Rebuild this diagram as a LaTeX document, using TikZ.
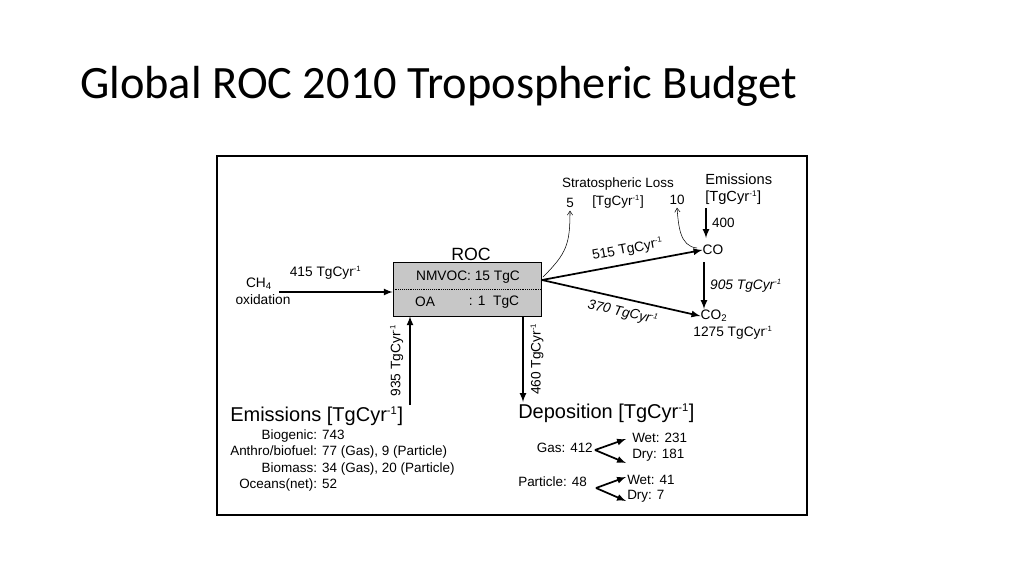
\documentclass[tikz,border=0pt]{standalone}
\usepackage{fontspec}
\usepackage{graphicx}
\setmainfont{Liberation Sans}
\newfontfamily\titlefont{Carlito}
\usetikzlibrary{arrows.meta}
\newcommand{\tgcyr}{TgCyr\textsuperscript{\scalebox{0.8}{-1}}}

\begin{document}
\begin{tikzpicture}[x=0.75pt,y=-0.75pt,
    flux/.style={>=latex,line width=1.3pt},
    loss/.style={>={Straight Barb[length=3pt,width=4pt]},thin},
    txt/.style={inner sep=0pt,font=\fontsize{10.3}{12}\selectfont},
    small/.style={inner sep=0pt,font=\fontsize{10.1}{12}\selectfont},
    big/.style={inner sep=0pt,font=\fontsize{15}{18}\selectfont},
    pool/.style={rectangle,draw=black,fill=black!22,minimum width=111pt,minimum height=40.5pt,inner sep=0pt}]
    \useasboundingbox (0,0) rectangle (1024,576);
    \node[anchor=base west,inner sep=0pt,font=\titlefont\fontsize{34.8}{38}\selectfont] (title) at (80,98) {Global ROC 2010 Tropospheric Budget};
    \draw[line width=1.6pt] (217,156) rectangle (807,515);

    % ROC pool
    \node[pool] (roc) at (467,289) {};
    \draw[densely dotted,thin] (roc.west) -- (roc.east);
    \node[inner sep=0pt,font=\fontsize{13.3}{16}\selectfont] (roclbl) at (471,254) {ROC};
    \node[txt] (nmvoc) at (468,277) {NMVOC: 15 TgC};
    \node[txt] (oa) at (425,302) {OA};
    \node[txt] (oamass) at (494,302) {: 1\ \ TgC};

    % methane
    \node[txt] (ch4) at (259,284) {CH\textsubscript{4}};
    \node[txt] (oxid) at (263,300) {oxidation};
    \coordinate (ch4out) at (279,292);
    \draw[flux,->] (ch4out) -- (ch4out -| roc.west) node[txt,pos=0.41,above=9pt] {415 \tgcyr};

    % emissions into ROC
    \coordinate (emisup) at (410,405);
    \draw[flux,->] (emisup) -- (emisup |- roc.south) node[txt,midway,left=4.5pt,rotate=90,anchor=south] {935 \tgcyr};
    \node[big,anchor=west] (emis) at (230,416) {Emissions [\tgcyr]};
    \node[small,anchor=north west] (emislist) at (230,428) {\fontsize{10.1}{12.2}\selectfont
        \begin{tabular}{@{}r@{: }l@{}}
        Biogenic & 743\\
        Anthro/biofuel & 77 (Gas), 9 (Particle)\\
        Biomass & 34 (Gas), 20 (Particle)\\
        Oceans(net) & 52
        \end{tabular}};

    % deposition
    \coordinate (depdown) at (523,402);
    \draw[flux,->] (depdown |- roc.south) -- (depdown) node[txt,midway,right=5pt,rotate=90,anchor=north] {460 \tgcyr};
    \node[big,anchor=west] (dep) at (518,413) {Deposition [\tgcyr]};
    \node[small,anchor=east] (gas) at (593,448) {Gas: 412};
    \node[small,anchor=west] (gaswet) at (632,438) {Wet: 231};
    \node[small,anchor=west] (gasdry) at (632,455) {Dry: 181};
    \coordinate (gasfork) at (595,450);
    \draw[flux,->] (gasfork) -- (626,439);
    \draw[flux,->] (gasfork) -- (626,463);
    \node[small,anchor=west] (part) at (518,482) {Particle: 48};
    \node[small,anchor=west] (partwet) at (627,480) {Wet: 41};
    \node[small,anchor=west] (partdry) at (627,496) {Dry: 7};
    \coordinate (partfork) at (596,488);
    \draw[flux,->] (partfork) -- (626,477);
    \draw[flux,->] (partfork) -- (626,501);

    % CO and CO2
    \node[txt] (co) at (713,250) {CO};
    \node[txt] (cotwo) at (714,316) {CO\textsubscript{2}};
    \node[txt] (cotwoflux) at (733,333) {1275 \tgcyr};
    \coordinate (rocout) at (542,280);
    \draw[flux,->] (rocout) -- (co.west) node[txt,pos=0.55,above=5pt,sloped] {515 \tgcyr};
    \draw[flux,->] (rocout) -- (cotwo.west) node[txt,pos=0.53,below=5pt,sloped,font=\fontsize{10.3}{12}\selectfont\itshape] {370 \tgcyr};
    \draw[flux,->] (704,262) -- (704,309) node[txt,midway,right=4pt,font=\fontsize{10.3}{12}\selectfont\itshape] {905 \tgcyr};

    % CO emissions
    \node[txt,anchor=west,font=\fontsize{11}{13}\selectfont] (coemis) at (705,179) {Emissions};
    \node[txt,anchor=west,font=\fontsize{11}{13}\selectfont] (coemisu) at (705,198) {[\tgcyr]};
    \draw[flux,->] (706,208) -- (706,238) node[small,midway,right=4pt] {400};

    % stratospheric loss
    \node[small] (strat) at (618,184) {Stratospheric Loss};
    \node[small] (stratu) at (618,202) {[\tgcyr]};
    \node[small] (five) at (570,203) {5};
    \node[small] (ten) at (677,200) {10};
    \draw[loss,->] (543,277) to[out=45,in=-90,looseness=1.2] ([yshift=-2pt]five.south);
    \draw[loss,->] (697,248) to[out=175,in=-85] ([yshift=-2pt]ten.south);
\end{tikzpicture}
\end{document}
